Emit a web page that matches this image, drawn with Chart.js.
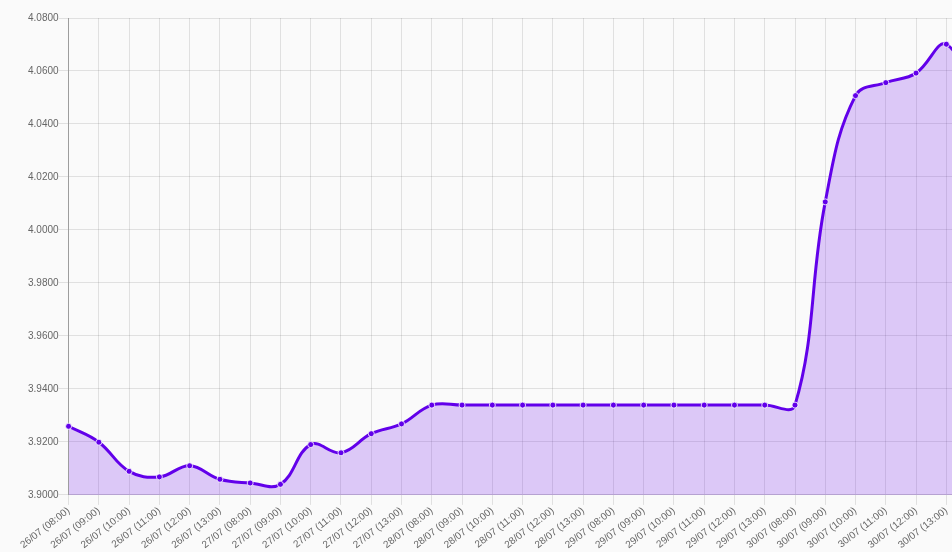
<!DOCTYPE html>
<html>
<head>
<meta charset="utf-8">
<script src="https://cdn.jsdelivr.net/npm/chart.js@4/dist/chart.umd.min.js"></script>
<style>
  html, body { margin: 0; padding: 0; background: #fafafa; overflow: hidden; width: 952px; height: 552px; }
  #wrap { width: 984px; height: 552px; }
</style>
</head>
<body>
<div id="wrap"><canvas id="c" width="984" height="552"></canvas></div>
<script>
const days = ['26/07', '27/07', '28/07', '29/07', '30/07'];
const hours = ['08:00', '09:00', '10:00', '11:00', '12:00', '13:00'];
const categories = [
  '26/07 (08:00)', '26/07 (09:00)', '26/07 (10:00)', '26/07 (11:00)', '26/07 (12:00)', '26/07 (13:00)',
  '27/07 (08:00)', '27/07 (09:00)', '27/07 (10:00)', '27/07 (11:00)', '27/07 (12:00)', '27/07 (13:00)',
  '28/07 (08:00)', '28/07 (09:00)', '28/07 (10:00)', '28/07 (11:00)', '28/07 (12:00)', '28/07 (13:00)',
  '29/07 (08:00)', '29/07 (09:00)', '29/07 (10:00)', '29/07 (11:00)', '29/07 (12:00)', '29/07 (13:00)',
  '30/07 (08:00)', '30/07 (09:00)', '30/07 (10:00)', '30/07 (11:00)', '30/07 (12:00)', '30/07 (13:00)',
  ''
];
const rates = [
  3.9259, 3.9199, 3.9089, 3.9068, 3.9110, 3.9059,
  3.9045, 3.9040, 3.9190, 3.9159, 3.9231, 3.9268,
  3.9339, 3.9339, 3.9339, 3.9339, 3.9339, 3.9339,
  3.9339, 3.9339, 3.9339, 3.9339, 3.9339, 3.9339,
  3.9339, 4.0106, 4.0507, 4.0556, 4.0592, 4.0701,
  4.0460
];
const yMin = 3.9, yMax = 4.08, yStep = 0.02;

const ctx = document.getElementById('c').getContext('2d');
new Chart(ctx, {
  type: 'line',
  data: {
    labels: categories,
    datasets: [{
      data: rates,
      borderColor: '#6200ea',
      backgroundColor: 'rgba(98,0,234,0.2)',
      borderWidth: 3,
      fill: true,
      tension: 0.4,
      pointRadius: 3,
      pointBorderWidth: 1,
      pointBackgroundColor: '#6200ea',
      pointBorderColor: 'rgba(255,255,255,0.8)'
    }]
  },
  options: {
    responsive: false,
    animation: false,
    devicePixelRatio: 1,
    layout: { padding: { top: 18, right: 2, left: 28, bottom: 1 } },
    plugins: { legend: { display: false }, tooltip: { enabled: false } },
    scales: {
      x: {
        grid: { color: 'rgba(0,0,0,0.1)', tickLength: 10, drawTicks: true },
        border: { color: 'rgba(0,0,0,0.1)' },
        ticks: {
          autoSkip: false,
          maxRotation: 38, minRotation: 38,
          color: '#666', padding: 0,
          font: { family: "'Liberation Sans', Arial, sans-serif", size: 10 }
        }
      },
      y: {
        min: yMin, max: yMax,
        grid: { color: 'rgba(0,0,0,0.1)', tickLength: 10 },
        border: { color: 'rgba(0,0,0,0.3)' },
        ticks: {
          stepSize: yStep,
          color: '#666', padding: 0,
          font: { family: "'Liberation Sans', Arial, sans-serif", size: 10 },
          callback: v => Number(v).toFixed(4)
        }
      }
    }
  }
});
</script>
</body>
</html>
